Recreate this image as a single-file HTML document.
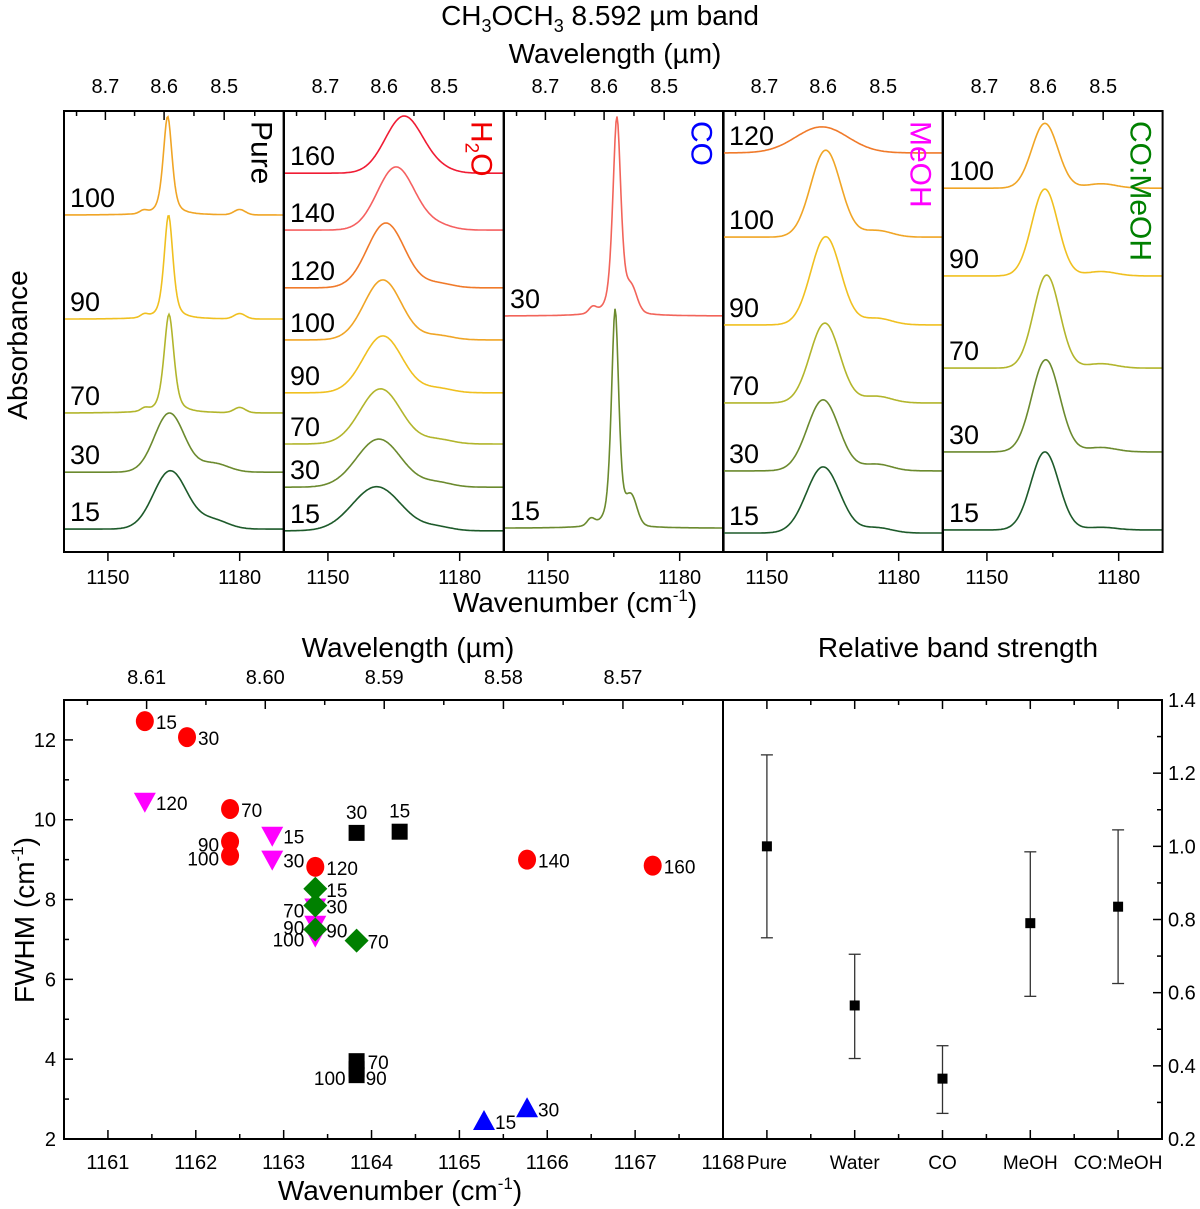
<!DOCTYPE html>
<html><head><meta charset="utf-8"><style>
html,body{margin:0;padding:0;background:#fff;}
svg{display:block;font-family:"Liberation Sans",Arial,sans-serif;}
</style></head><body>
<svg id="fig" width="1200" height="1209" viewBox="0 0 1200 1209" xmlns="http://www.w3.org/2000/svg">
<g>
<text x="600" y="25" font-size="28" text-anchor="middle">CH<tspan font-size="18" dy="7">3</tspan><tspan dy="-7">OCH</tspan><tspan font-size="18" dy="7">3</tspan><tspan dy="-7"> 8.592 µm band</tspan></text>
<text x="615" y="63" font-size="28" text-anchor="middle">Wavelength (µm)</text>
<text x="575" y="612" font-size="28" text-anchor="middle">Wavenumber (cm<tspan font-size="17" dy="-11">-1</tspan><tspan dy="11">)</tspan></text>
<text transform="translate(27,345) rotate(-90)" font-size="28" text-anchor="middle">Absorbance</text>
</g>
<g id="spectra"></g>
<g id="scatter"></g>
<g id="strength"></g>
</svg>
<script>
// ---------- Top spectra data ----------
const pureLabels=["100","90","70","30","15"];
const pureBase=[0.764,0.528,0.315,0.181,0.052];
const pureHeight=[0.224,0.236,0.224,0.134,0.132];
const pureCenter=[1163.6,1163.8,1163.9,1164.0,1164.2];
const pureWidth=[2.4,2.4,2.7,8,9];
const pureShoulderPos=[1180,1180,1180,1174,1174];
const pureShoulderH=[0.012,0.012,0.012,0.02,0.02];

const h2oLabels=["160","140","120","100","90","70","30","15"];
const h2oBase=[0.859,0.730,0.599,0.481,0.361,0.245,0.147,0.048];
const h2oHeight=[0.129,0.143,0.147,0.136,0.129,0.125,0.109,0.100];
const h2oCenter=[1167.3,1165.5,1163.2,1162.5,1162.5,1162.0,1161.6,1161.1];
const h2oWidth=[10,10,10,10,10.5,11,12,13];
const h2oShoulderPos=[1175,1175,1175,1175,1175,1175,1175,1175];
const h2oShoulderH=[0.008,0.01,0.01,0.01,0.01,0.01,0.01,0.008];

const coLabels=["30","15"];
const coBase=[0.535,0.054];
const coHeight=[0.451,0.497];
const coCenter=[1165.7,1165.3];
const coWidth=[2.2,2.0];
const coShoulderPos=[1169,1169];
const coShoulderH=[0.05,0.06];

const meohLabels=["120","100","90","70","30","15"];
const meohBase=[0.905,0.714,0.515,0.338,0.184,0.043];
const meohHeight=[0.059,0.197,0.200,0.181,0.161,0.150];
const meohCenter=[1162.5,1163.4,1163.4,1163.2,1162.8,1162.8];
const meohWidth=[14,8,8,8,8.5,9];
const meohShoulderPos=[1175,1175,1175,1175,1175,1175];
const meohShoulderH=[0.0,0.015,0.015,0.015,0.015,0.012];

const comLabels=["100","90","70","30","15"];
const comBase=[0.825,0.626,0.417,0.227,0.050];
const comHeight=[0.147,0.197,0.211,0.209,0.177];
const comCenter=[1163.2,1163.2,1163.6,1163.4,1163.2];
const comWidth=[7,7,7,7.5,7.5];
const comShoulderPos=[1176,1176,1176,1176,1176];
const comShoulderH=[0.01,0.01,0.01,0.01,0.006];

const tempColors={"15":"#1d5a2a","30":"#6b8a2e","70":"#b2b52c","90":"#f0c020","100":"#f0a526","120":"#f07a2a","140":"#f56060","160":"#f01c34"};
const coColors={"30":"#f2645a","15":"#6b8a2e"};

// ---------- FWHM scatter data ----------
const h2oX=[1161.42,1161.9,1162.39,1162.39,1162.39,1163.36,1165.77,1167.2];
const h2oY=[12.47,12.07,10.27,9.45,9.1,8.82,9.0,8.85];
const h2oPtLabels=["15","30","70","90","100","120","140","160"];
const h2oLabelSide=["r","r","r","l","l","r","r","r"];
const meohX=[1161.42,1162.87,1162.87,1163.36,1163.36,1163.36];
const meohY=[10.45,9.6,9.0,7.8,7.37,7.07];
const meohPtLabels=["120","15","30","70","90","100"];
const meohLabelSide=["r","r","r","l","l","l"];
const pureX=[1163.83,1164.32,1163.83,1163.83,1163.83];
const pureY=[9.67,9.7,3.95,3.75,3.6];
const purePtLabels=["30","15","70","90","100"];
const pureLabelSide=["t","t","r","r2","l"];
const coX=[1165.28,1165.77];
const coY=[2.45,2.77];
const coPtLabels=["15","30"];
const comX=[1163.36,1163.36,1163.36,1163.83];
const comY=[8.27,7.85,7.25,6.97];
const comPtLabels=["15","30","90","70"];

// ---------- Band strength data ----------
const bsCats=["Pure","Water","CO","MeOH","CO:MeOH"];
const bsVal=[1.0,0.565,0.365,0.79,0.835];
const bsLow=[0.75,0.42,0.27,0.59,0.625];
const bsHigh=[1.25,0.705,0.455,0.985,1.045];

const NS="http://www.w3.org/2000/svg";
function mk(tag,attrs,parent){const e=document.createElementNS(NS,tag);for(const k in attrs)e.setAttribute(k,attrs[k]);if(parent)parent.appendChild(e);return e;}

// ---------- Top panels ----------
const spectra=document.getElementById('spectra');
const PT=111,PB=552,PW=219.6;
const wnMin=1140,wnMax=1190;
const panels=[
 {name:"pure",x0:64,labels:pureLabels,base:pureBase,h:pureHeight,c:pureCenter,w:pureWidth,sp:pureShoulderPos,sh:pureShoulderH,tag:"Pure",tagColor:"#000",narrow:true,colors:tempColors},
 {name:"h2o",x0:284,labels:h2oLabels,base:h2oBase,h:h2oHeight,c:h2oCenter,w:h2oWidth,sp:h2oShoulderPos,sh:h2oShoulderH,tag:"H2O",tagColor:"#f00000",narrow:false,colors:tempColors},
 {name:"co",x0:504,labels:coLabels,base:coBase,h:coHeight,c:coCenter,w:coWidth,sp:coShoulderPos,sh:coShoulderH,tag:"CO",tagColor:"#0000ff",narrow:true,colors:coColors},
 {name:"meoh",x0:723,labels:meohLabels,base:meohBase,h:meohHeight,c:meohCenter,w:meohWidth,sp:meohShoulderPos,sh:meohShoulderH,tag:"MeOH",tagColor:"#ff00ff",narrow:false,colors:tempColors},
 {name:"co-meoh",x0:943,labels:comLabels,base:comBase,h:comHeight,c:comCenter,w:comWidth,sp:comShoulderPos,sh:comShoulderH,tag:"CO:MeOH",tagColor:"#008000",narrow:false,colors:tempColors}
];
function yA(a){return PB-a*(PB-PT);}
function gauss(x,c,w){return Math.exp(-4*Math.LN2*Math.pow((x-c)/w,2));}
function lor(x,c,w){return 1/(1+4*Math.pow((x-c)/w,2));}
panels.forEach(function(p){
  const g=mk('g',{},spectra);
  
  
  const xW=function(wn){return p.x0+(wn-wnMin)/(wnMax-wnMin)*PW;};
  p.labels.forEach(function(lab,i){
    let d="";
    for(let px=0;px<=PW;px+=1){
      const wn=wnMin+px/PW*(wnMax-wnMin);
      let v;
      if(p.narrow&&p.w[i]<4){v=0.55*lor(wn,p.c[i],p.w[i])+0.45*gauss(wn,p.c[i],p.w[i]);v+=0.03*gauss(wn,p.c[i]-5.5,2);}
      else v=gauss(wn,p.c[i],p.w[i]);
      let a=p.base[i]+p.h[i]*v+p.sh[i]*gauss(wn,p.sp[i],p.narrow&&p.w[i]<4?3:8);
      d+=(px===0?"M":"L")+(p.x0+px).toFixed(1)+","+yA(a).toFixed(1);
    }
    const path=mk('path',{d:d,fill:"none",stroke:p.colors[lab],"stroke-width":1.6},g);
    
    
    const t=mk('text',{x:p.x0+6,y:yA(p.base[i])-8,"font-size":27},g);
    t.textContent=lab;
    
    
  });
  const fr=mk('rect',{x:p.x0,y:PT,width:PW,height:PB-PT,fill:"none",stroke:"#000","stroke-width":2},g);
  
  
  [1150,1165,1180].forEach(function(wn,k){
    const x=xW(wn);
    mk('line',{x1:x,x2:x,y1:PB,y2:PB+(k===1?5:9),stroke:"#000","stroke-width":1.5},g);
    if(k!==1){const t=mk('text',{x:x,y:PB+32,"font-size":20,"text-anchor":"middle"},g);t.textContent=wn;
      
      }
  });
  [8.75,8.7,8.65,8.6,8.55,8.5,8.45].forEach(function(lam,k){
    const x=xW(1e4/lam);
    if(x<p.x0||x>p.x0+PW)return;
    const major=(k%2===1);
    mk('line',{x1:x,x2:x,y1:PT,y2:PT+(major?9:5),stroke:"#000","stroke-width":1.5},g);
    if(major){const t=mk('text',{x:x,y:PT-18,"font-size":20,"text-anchor":"middle"},g);t.textContent=lam.toFixed(1);
      
      }
  });
  const tx=p.x0+PW-32, ty=PT+10;
  const tg=mk('text',{transform:"translate("+tx+","+ty+") rotate(90)","font-size":30,fill:p.tagColor},g);
  if(p.tag==="H2O"){tg.innerHTML='H<tspan font-size="19" dy="6">2</tspan><tspan dy="-6">O</tspan>';}
  else tg.textContent=p.tag;
  
  
});

// ---------- FWHM scatter ----------
const sc=document.getElementById('scatter');
const SL=64,SR=723,ST=700,SB=1139;
const sxMin=1160.5,sxMax=1168,syMin=2,syMax=13;
function sx(v){return SL+(v-sxMin)/(sxMax-sxMin)*(SR-SL);}
function sy(v){return SB-(v-syMin)/(syMax-syMin)*(SB-ST);}
const sf=mk('rect',{x:SL,y:ST,width:SR-SL,height:SB-ST,fill:"none",stroke:"#000","stroke-width":2},sc);


for(let v=1160.5;v<=1168.01;v+=0.5){
  const x=sx(v),major=Math.abs(v-Math.round(v))<0.01;
  mk('line',{x1:x,x2:x,y1:SB,y2:SB-(major?9:5),stroke:"#000","stroke-width":1.5},sc);
  if(major){const t=mk('text',{x:x,y:SB+30,"font-size":20,"text-anchor":"middle"},sc);t.textContent=Math.round(v);
    
    }
}
for(let v=2;v<=13;v+=1){
  const y=sy(v),major=(v%2===0);
  mk('line',{x1:SL,x2:SL+(major?9:5),y1:y,y2:y,stroke:"#000","stroke-width":1.5},sc);
  if(major){const t=mk('text',{x:SL-8,y:y+7,"font-size":20,"text-anchor":"end"},sc);t.textContent=v;
    
    }
}
[8.615,8.61,8.605,8.60,8.595,8.59,8.585,8.58,8.575,8.57,8.565].forEach(function(lam,k){
  const x=sx(1e4/lam); if(x<SL||x>SR)return;
  const major=(k%2===1);
  mk('line',{x1:x,x2:x,y1:ST,y2:ST+(major?9:5),stroke:"#000","stroke-width":1.5},sc);
  if(major){const t=mk('text',{x:x,y:ST-16,"font-size":20,"text-anchor":"middle"},sc);t.textContent=lam.toFixed(2);
    
    }
});
const st1=mk('text',{x:408,y:657,"font-size":28,"text-anchor":"middle"},sc);st1.textContent="Wavelength (µm)";


const st2=mk('text',{x:400,y:1200,"font-size":28,"text-anchor":"middle"},sc);st2.innerHTML='Wavenumber (cm<tspan font-size="17" dy="-11">-1</tspan><tspan dy="11">)</tspan>';


const st3=mk('text',{transform:"translate(34,920) rotate(-90)","font-size":28,"text-anchor":"middle"},sc);st3.innerHTML='FWHM (cm<tspan font-size="17" dy="-11">-1</tspan><tspan dy="11">)</tspan>';



function marker(shape,x,y,color){
  let e;
  if(shape==="circle")e=mk('ellipse',{cx:x,cy:y,rx:9,ry:10,fill:color},sc);
  else if(shape==="down")e=mk('polygon',{points:(x-11)+","+(y-9)+" "+(x+11)+","+(y-9)+" "+x+","+(y+11),fill:color},sc);
  else if(shape==="up")e=mk('polygon',{points:(x-11)+","+(y+9)+" "+(x+11)+","+(y+9)+" "+x+","+(y-11),fill:color},sc);
  else if(shape==="square")e=mk('rect',{x:x-8,y:y-8,width:16,height:16,fill:color},sc);
  else e=mk('polygon',{points:x+","+(y-12)+" "+(x+12)+","+y+" "+x+","+(y+12)+" "+(x-12)+","+y,fill:color},sc);
  return e;
}
function ptLabel(x,y,txt,side){
  let a={x:x+11,y:y+8,"font-size":19,"text-anchor":"start"};
  if(side==="l")a={x:x-11,y:y+10,"font-size":19,"text-anchor":"end"};
  if(side==="t")a={x:x,y:y-14,"font-size":19,"text-anchor":"middle"};
  if(side==="r2")a={x:x+9,y:y+16,"font-size":19,"text-anchor":"start"};
  const t=mk('text',a,sc);t.textContent=txt;return t;
}
function series(name,xs,ys,labs,sides,shape,color){
  xs.forEach(function(v,i){
    const m=marker(shape,sx(v),sy(ys[i]),color);
    
    
    const t=ptLabel(sx(v),sy(ys[i]),labs[i],sides?sides[i]:"r");
    
    
  });
}
series('meoh',meohX,meohY,meohPtLabels,meohLabelSide,'down','#ff00ff');
series('h2o',h2oX,h2oY,h2oPtLabels,h2oLabelSide,'circle','#ff0000');
series('pure',pureX,pureY,purePtLabels,pureLabelSide,'square','#000');
series('co',coX,coY,coPtLabels,null,'up','#0000ff');
series('co-meoh',comX,comY,comPtLabels,null,'diamond','#008000');

// ---------- Band strength ----------
const bs=document.getElementById('strength');
const BL=723,BR=1162;
const byMin=0.2,byMax=1.4;
function bx(i){return BL+(i+0.5)/bsCats.length*(BR-BL);}
function by(v){return SB-(v-byMin)/(byMax-byMin)*(SB-ST);}
const bf=mk('rect',{x:BL,y:ST,width:BR-BL,height:SB-ST,fill:"none",stroke:"#000","stroke-width":2},bs);


const bt=mk('text',{x:958,y:657,"font-size":28,"text-anchor":"middle"},bs);bt.textContent="Relative band strength";


for(let k=0;k<=12;k++){
  const v=0.2+k*0.1,y=by(v),major=(k%2===0);
  mk('line',{x1:BR,x2:BR-(major?9:5),y1:y,y2:y,stroke:"#000","stroke-width":1.5},bs);
  if(major){const t=mk('text',{x:BR+6,y:y+7,"font-size":20},bs);t.textContent=v.toFixed(1);
    
    }
}
for(let k=0;k<=10;k++){
  const x=BL+k/10*(BR-BL),major=(k%2===1);
  mk('line',{x1:x,x2:x,y1:SB,y2:SB-(major?9:5),stroke:"#000","stroke-width":1.5},bs);
  mk('line',{x1:x,x2:x,y1:ST,y2:ST+(major?9:5),stroke:"#000","stroke-width":1.5},bs);
}
bsCats.forEach(function(c,i){
  const x=bx(i);
  const t=mk('text',{x:x,y:SB+30,"font-size":19,"text-anchor":"middle"},bs);t.textContent=c;
  
  
  const eb=mk('g',{stroke:"#333","stroke-width":1.3},bs);
  
  
  mk('line',{x1:x,x2:x,y1:by(bsLow[i]),y2:by(bsHigh[i])},eb);
  mk('line',{x1:x-6,x2:x+6,y1:by(bsLow[i]),y2:by(bsLow[i])},eb);
  mk('line',{x1:x-6,x2:x+6,y1:by(bsHigh[i]),y2:by(bsHigh[i])},eb);
  const m=mk('rect',{x:x-5,y:by(bsVal[i])-5,width:10,height:10,fill:"#000"},bs);
  
  
});
</script>
</body></html>
